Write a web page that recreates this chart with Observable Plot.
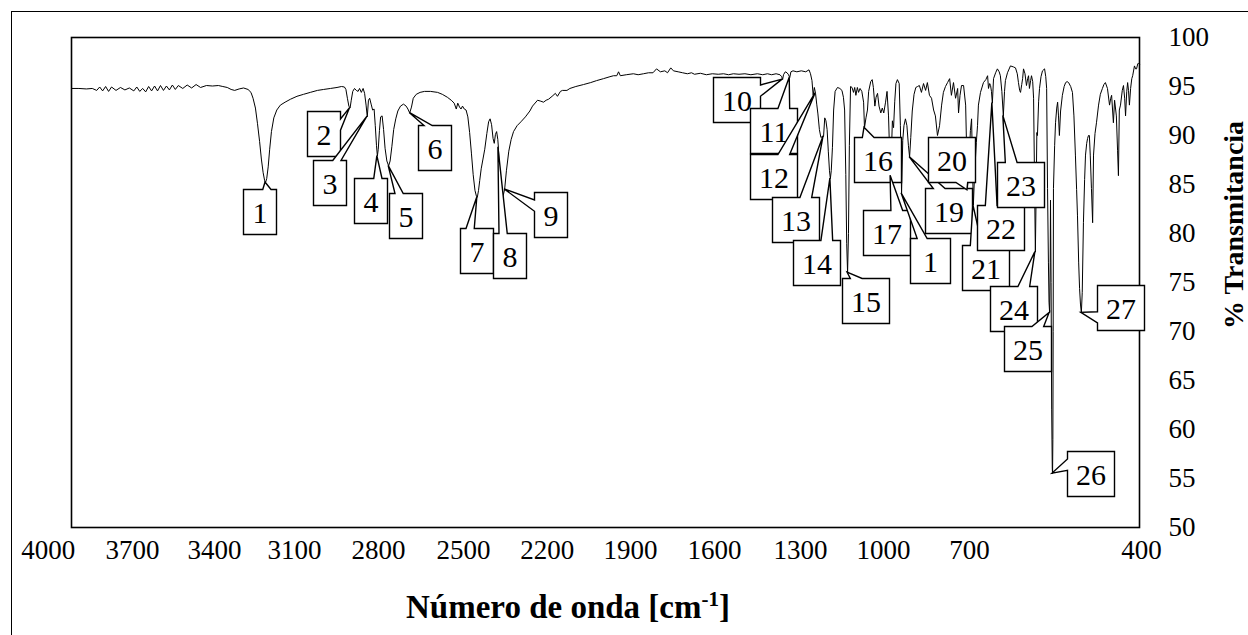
<!DOCTYPE html>
<html>
<head>
<meta charset="utf-8">
<script src="https://cdn.jsdelivr.net/npm/d3@7"></script>
<script src="https://cdn.jsdelivr.net/npm/@observablehq/plot@0.6"></script>
<style>
  html, body { margin: 0; padding: 0; background: #fff; }
  #wrap { position: relative; width: 1248px; height: 635px; overflow: hidden; background: #fff; }
  #outer { position: absolute; left: 11px; top: 11px; width: 1400px; height: 800px;
           border-left: 1px solid #000; border-top: 1px solid #000; }
  #chart { position: absolute; left: 0; top: 0; }
</style>
</head>
<body>
<div id="wrap"><div id="outer"></div><div id="chart"></div></div>
<script>
const FONT = '"Liberation Serif", "Times New Roman", Times, serif';

// IR spectrum: [wavenumber (cm-1), % transmittance]
const irSpectrum = [
  [4000,94.8],[3975,94.8],[3950,94.75],[3930,94.8],[3915,94.6],[3905,94.95],[3895,94.55],[3885,95.0],
  [3875,94.5],[3865,94.95],[3850,94.6],[3835,94.9],[3820,94.65],[3805,94.85],[3790,94.55],[3780,94.95],
  [3770,94.5],[3760,94.8],[3750,94.45],[3740,95.0],[3730,94.55],[3720,95.05],[3710,94.55],[3700,95.1],
  [3690,94.6],[3680,95.05],[3670,94.65],[3660,95.15],[3650,94.7],[3640,95.1],[3625,94.8],[3610,95.15],
  [3595,94.85],[3580,95.2],[3565,94.9],[3545,95.1],[3525,95.05],[3505,95.1],[3490,95.0],[3475,94.9],
  [3462,94.7],[3450,94.6],[3435,94.75],[3420,94.85],[3405,94.7],
  [3395,94.4],[3388,93.8],[3380,92.8],[3373,91.2],[3366,89.4],[3360,87.6],[3354,86.2],[3349,85.4],
  [3346,85.2],[3342,85.6],[3337,86.8],[3332,88.6],[3326,90.4],[3318,91.8],[3308,92.6],[3296,93.1],
  [3280,93.4],[3262,93.7],[3240,94.0],[3218,94.2],[3195,94.4],[3171,94.6],[3150,94.7],[3127,94.8],
  [3105,94.9],[3090,95.0],[3080,94.95],[3075,94.7],[3070,93.8],[3065,93.0],[3061,92.8],[3057,93.6],
  [3052,94.5],[3046,94.8],[3040,94.6],[3034,94.5],[3029,94.8],[3023,94.4],[3017,94.8],[3012,94.3],
  [3007,93.1],[3003,91.9],[2999,93.6],[2995,93.8],[2990,93.2],[2985,92.6],[2980,92.7],[2976,91.0],
  [2972,89.0],[2969,87.9],[2966,88.6],[2962,90.5],[2958,91.9],[2953,92.0],[2948,90.6],[2943,88.7],
  [2937,87.4],[2931,86.9],[2926,87.4],[2920,88.9],[2914,90.6],[2907,91.7],[2900,92.5],[2891,93.0],
  [2881,93.2],[2872,93.0],[2866,92.7],[2860,92.3],[2854,92.9],[2848,93.8],[2838,94.2],[2825,94.4],
  [2810,94.5],[2790,94.5],[2766,94.4],[2750,94.2],[2733,93.9],[2720,93.6],[2710,93.3],[2703,92.7],
  [2698,93.3],[2692,92.9],[2687,92.7],[2682,93.0],[2676,92.7],[2670,92.6],[2664,91.9],[2658,90.3],
  [2652,88.2],[2646,86.0],[2640,84.4],[2635,83.8],[2632,83.7],[2628,84.4],[2624,85.4],[2619,86.6],
  [2613,87.6],[2607,88.6],[2600,90.2],[2594,91.4],[2589,91.7],[2584,91.1],[2579,89.7],[2575,89.2],
  [2571,90.1],[2567,90.4],[2563,89.6],[2561,88.8],[2558,86.5],[2555,84.0],[2551,83.0],[2547,83.6],
  [2540,84.5],[2534,86.4],[2526,88.4],[2518,89.6],[2510,90.4],[2498,91.0],[2485,91.4],[2470,91.9],
  [2455,92.5],[2446,93.0],[2429,93.6],[2418,93.5],[2409,93.4],[2400,93.6],[2392,93.7],[2380,94.0],
  [2369,94.3],[2362,94.0],[2352,94.5],[2345,94.6],[2330,94.6],[2320,94.8],[2300,95.0],[2274,95.2],
  [2250,95.4],[2230,95.6],[2207,95.8],[2185,96.0],[2173,96.1],[2162,96.1],[2156,96.5],[2150,96.1],
  [2130,96.2],[2106,96.3],[2090,96.2],[2072,96.3],[2055,96.4],[2040,96.4],[2028,96.8],[2015,96.5],
  [2000,96.6],[1991,96.4],[1980,96.9],[1971,96.6],[1955,96.5],[1940,96.4],[1924,96.3],[1910,96.4],
  [1900,96.25],[1880,96.35],[1860,96.2],[1840,96.3],[1820,96.25],[1802,96.3],[1785,96.2],[1769,96.3],
  [1750,96.25],[1730,96.3],[1710,96.2],[1688,96.3],[1670,96.2],[1654,96.3],[1640,96.2],[1625,96.3],
  [1612,96.2],[1606,96.0],[1603,95.7],[1600,96.2],[1594,96.5],[1588,96.4],[1583,96.2],[1579,95.9],
  [1575,96.5],[1568,96.6],[1555,96.5],[1540,96.6],[1525,96.5],[1514,96.7],[1509,96.3],[1504,95.6],
  [1500,94.1],[1496,94.9],[1492,94.3],[1488,93.2],[1484,92.2],[1479,90.6],[1474,89.8],[1469,89.9],
  [1465,89.9],[1461,91.8],[1457,91.5],[1453,90.6],[1449,88.4],[1445,86.4],[1442,85.6],[1439,86.4],
  [1435,88.8],[1431,92.6],[1426,94.5],[1418,94.9],[1410,94.8],[1403,94.6],[1398,93.9],[1394,92.6],
  [1390,86.0],[1387,79.0],[1384,76.0],[1381,80.0],[1378,89.0],[1374,95.0],[1369,94.9],[1364,94.4],
  [1360,94.9],[1356,94.1],[1351,94.9],[1347,94.4],[1342,94.8],[1336,94.5],[1330,93.4],[1327,90.8],
  [1322,91.8],[1317,92.6],[1313,94.5],[1306,95.5],[1301,95.7],[1297,94.9],[1292,93.0],[1288,93.9],
  [1283,94.3],[1278,93.0],[1272,92.3],[1267,92.8],[1262,92.3],[1256,93.4],[1251,94.5],[1246,92.0],
  [1242,88.0],[1239,85.9],[1236,88.5],[1233,91.5],[1229,90.8],[1225,93.5],[1221,95.3],[1216,95.7],
  [1210,95.3],[1206,91.0],[1202,84.1],[1198,89.5],[1194,91.0],[1189,91.7],[1184,91.0],[1179,89.0],
  [1175,87.8],[1171,89.8],[1166,92.5],[1160,94.2],[1154,94.9],[1148,95.0],[1142,95.1],[1135,94.4],
  [1128,95.3],[1121,94.6],[1115,95.4],[1108,94.1],[1101,93.8],[1094,92.6],[1088,92.0],[1081,90.0],
  [1074,91.0],[1067,93.1],[1061,94.4],[1054,95.0],[1047,95.4],[1040,95.8],[1034,94.1],[1027,95.4],
  [1020,93.8],[1013,94.8],[1010,92.3],[1005,94.1],[1000,95.1],[993,95.1],[986,93.1],[983,89.0],
  [980,84.4],[976,87.5],[973,88.5],[970,90.5],[966,91.7],[963,87.0],[960,82.9],[956,86.0],
  [950,89.3],[946,91.0],[943,93.1],[936,94.4],[926,95.4],[918,95.7],[912,96.1],[909,94.8],
  [905,95.3],[902,95.1],[899,94.5],[896,93.3],[892,95.8],[885,96.4],[879,96.8],[873,96.5],
  [869,96.1],[864,94.5],[859,92.0],[855,94.5],[852,95.6],[845,96.4],[835,97.1],[825,97.0],
  [818,96.9],[812,96.3],[808,95.4],[804,94.6],[801,94.4],[797,95.2],[794,95.8],[791,96.8],
  [786,96.3],[781,95.1],[777,95.8],[774,96.1],[771,94.8],[767,95.6],[764,96.1],[760,95.5],
  [757,93.8],[754,86.0],[751,78.1],[748,85.0],[746,90.3],[744,90.0],[740,93.5],[737,94.8],
  [732,96.0],[727,96.6],[720,96.8],[716,96.0],[713,94.8],[710,84.6],[707,77.0],[705,73.0],
  [703,71.9],[701,77.0],[700,83.4],[698,75.0],[696,62.0],[694,56.0],[693,55.5],[692,59.0],
  [691,70.0],[690,84.6],[686,89.0],[683,91.3],[679,92.8],[676,93.4],[673,92.0],[670,90.0],
  [666,92.5],[660,94.1],[654,95.0],[649,95.4],[644,95.5],[639,95.4],[632,95.0],[626,94.4],
  [621,92.0],[616,88.0],[612,84.5],[609,81.8],[605,77.0],[602,74.4],[599,72.8],[596,71.9],
  [593,74.0],[589,81.1],[585,85.5],[582,88.0],[578,89.2],[575,89.7],[572,90.0],[569,90.0],
  [566,88.0],[562,84.6],[558,81.1],[555,88.0],[550,90.2],[545,91.3],[538,93.1],[532,94.2],
  [525,94.8],[520,95.2],[515,95.4],[508,94.8],[501,93.1],[497,93.8],[494,94.1],[488,91.3],
  [484,93.6],[478,92.0],[474,88.5],[471,85.9],[468,92.6],[464,93.1],[458,94.6],[454,95.1],
  [450,93.8],[447,92.0],[443,94.5],[440,95.4],[437,94.6],[434,93.1],[430,94.8],[426,95.8],
  [423,96.1],[417,97.1],[413,96.8],[410,96.8],[406,97.3],[403,97.4],[400,97.3]
];

// Numbered bands (label text, wavenumber, transmittance at the marked point)
const peakLabel = ["1","2","3","4","5","6","7","8","9","10","11","12","13","14","15","16","17","1","19","20","21","22","23","24","25","26","27"];
const peakWn    = [3346,3061,3003,2969,2931,2860,2632,2561,2540,1603,1579,1492,1465,1442,1384,1327,1239,1202,1175,980,960,896,859,751,703,693,596];
const peakT     = [85.2,92.8,91.9,87.9,86.9,92.3,83.7,88.8,84.5,95.7,95.9,94.3,89.9,85.6,76.0,90.8,85.9,84.1,87.8,84.4,82.9,93.3,92.0,78.1,71.9,55.5,71.9];

// Axis text
const xTickLabels = ["4000","3700","3400","3100","2800","2500","2200","1900","1600","1300","1000","700","400"];
const xLabelAt    = [4078,3794,3518,3248,2965,2679,2396,2116,1833,1543,1263,973,393];
const yTicks      = [50,55,60,65,70,75,80,85,90,95,100];

// Callout box placement: top-left corner offset (px) from the marked point
const calloutOffset = [[-22,7],[-43,3],[-54,44],[-23,22],[1,28],[9,13],[-17,31],[-5,86],[30,3],
  [-69,-2],[-39,31],[-65,61],[-51,61],[-37,62],[-5,6],[-10,10],[-27,35],[9,45],[16,31],[-39,-53],
  [-11,40],[-15,102],[-6,47],[-45,34],[-45,14],[15,-22],[16,-27]];
const BOX_H = 45;
const boxWidth = (t, i) => i === 17 ? 40 : (t.length > 1 ? 47 : 33);

// Rectangle with a wedge pointing at (px, py), in the manner of a rectangular callout
function wedgeRect(x0, y0, w, h, px, py) {
  const cx = x0 + w / 2, cy = y0 + h / 2, dx = px - cx, dy = py - cy;
  const vertical = Math.abs(dy) - Math.abs(dx * h / w) > 0;
  const xa = x0 + w * (dx > 0 ? 7 : 2) / 12, xb = x0 + w * (dx > 0 ? 10 : 5) / 12;
  const ya = y0 + h * (dy > 0 ? 7 : 2) / 12, yb = y0 + h * (dy > 0 ? 10 : 5) / 12;
  let d = `M${x0},${y0}`;
  if (vertical && dy < 0) d += `L${xa},${y0}L${px},${py}L${xb},${y0}`;
  d += `L${x0 + w},${y0}`;
  if (!vertical && dx > 0) d += `L${x0 + w},${ya}L${px},${py}L${x0 + w},${yb}`;
  d += `L${x0 + w},${y0 + h}`;
  if (vertical && dy > 0) d += `L${xb},${y0 + h}L${px},${py}L${xa},${y0 + h}`;
  d += `L${x0},${y0 + h}`;
  if (!vertical && dx < 0) d += `L${x0},${yb}L${px},${py}L${x0},${ya}`;
  return d + "Z";
}

function callouts(index, scales) {
  const g = d3.create("svg:g");
  peakLabel.forEach((t, i) => {
    const px = scales.x(peakWn[i]), py = scales.y(peakT[i]);
    const w = boxWidth(t, i);
    const x0 = Math.round(px + calloutOffset[i][0]) + 0.5, y0 = Math.round(py + calloutOffset[i][1]) + 0.5;
    g.append("path")
      .attr("d", wedgeRect(x0, y0, w, BOX_H, px, py))
      .attr("fill", "#fff").attr("stroke", "#000").attr("stroke-width", 1.4)
      .attr("stroke-linejoin", "miter");
    g.append("text")
      .attr("x", x0 + w / 2).attr("y", y0 + BOX_H / 2).attr("dy", "0.36em")
      .attr("text-anchor", "middle").attr("font-family", FONT).attr("font-size", 30)
      .attr("fill", "#000").text(t);
  });
  return g.node();
}

function titles(index, scales, values, dims) {
  const g = d3.create("svg:g").attr("font-family", FONT).attr("font-weight", "bold").attr("fill", "#000");
  const xt = g.append("text").attr("x", 568).attr("y", 618).attr("text-anchor", "middle").attr("font-size", 33);
  xt.append("tspan").text("Número de onda [cm");
  xt.append("tspan").attr("font-size", 21).attr("dy", -12).text("-1");
  xt.append("tspan").attr("dy", 12).text("]");
  g.append("text")
    .attr("transform", `translate(${dims.width - 5},225) rotate(-90)`)
    .attr("text-anchor", "middle").attr("font-size", 28).text("% Transmitancia");
  return g.node();
}

const chart = Plot.plot({
  width: 1248,
  height: 635,
  marginLeft: 71,
  marginRight: 109,
  marginTop: 37,
  marginBottom: 108,
  style: { fontFamily: FONT, fontSize: "27px", color: "#000", background: "transparent", overflow: "visible" },
  x: { domain: [4000, 400], axis: null },
  y: { domain: [50, 100], ticks: yTicks, axis: "right", tickSize: 0, tickPadding: 29, label: null },
  marks: [
    Plot.line(irSpectrum, { x: d => d[0], y: d => d[1], stroke: "#000", strokeWidth: 1, curve: "linear" }),
    Plot.frame({ stroke: "#000", strokeWidth: 1.6 }),
    Plot.text(xTickLabels, { x: (d, i) => xLabelAt[i], text: d => d, frameAnchor: "bottom", dy: 31, fontSize: 27, fill: "#000" }),
    callouts,
    titles
  ]
});
document.getElementById("chart").appendChild(chart);
</script>
</body>
</html>
